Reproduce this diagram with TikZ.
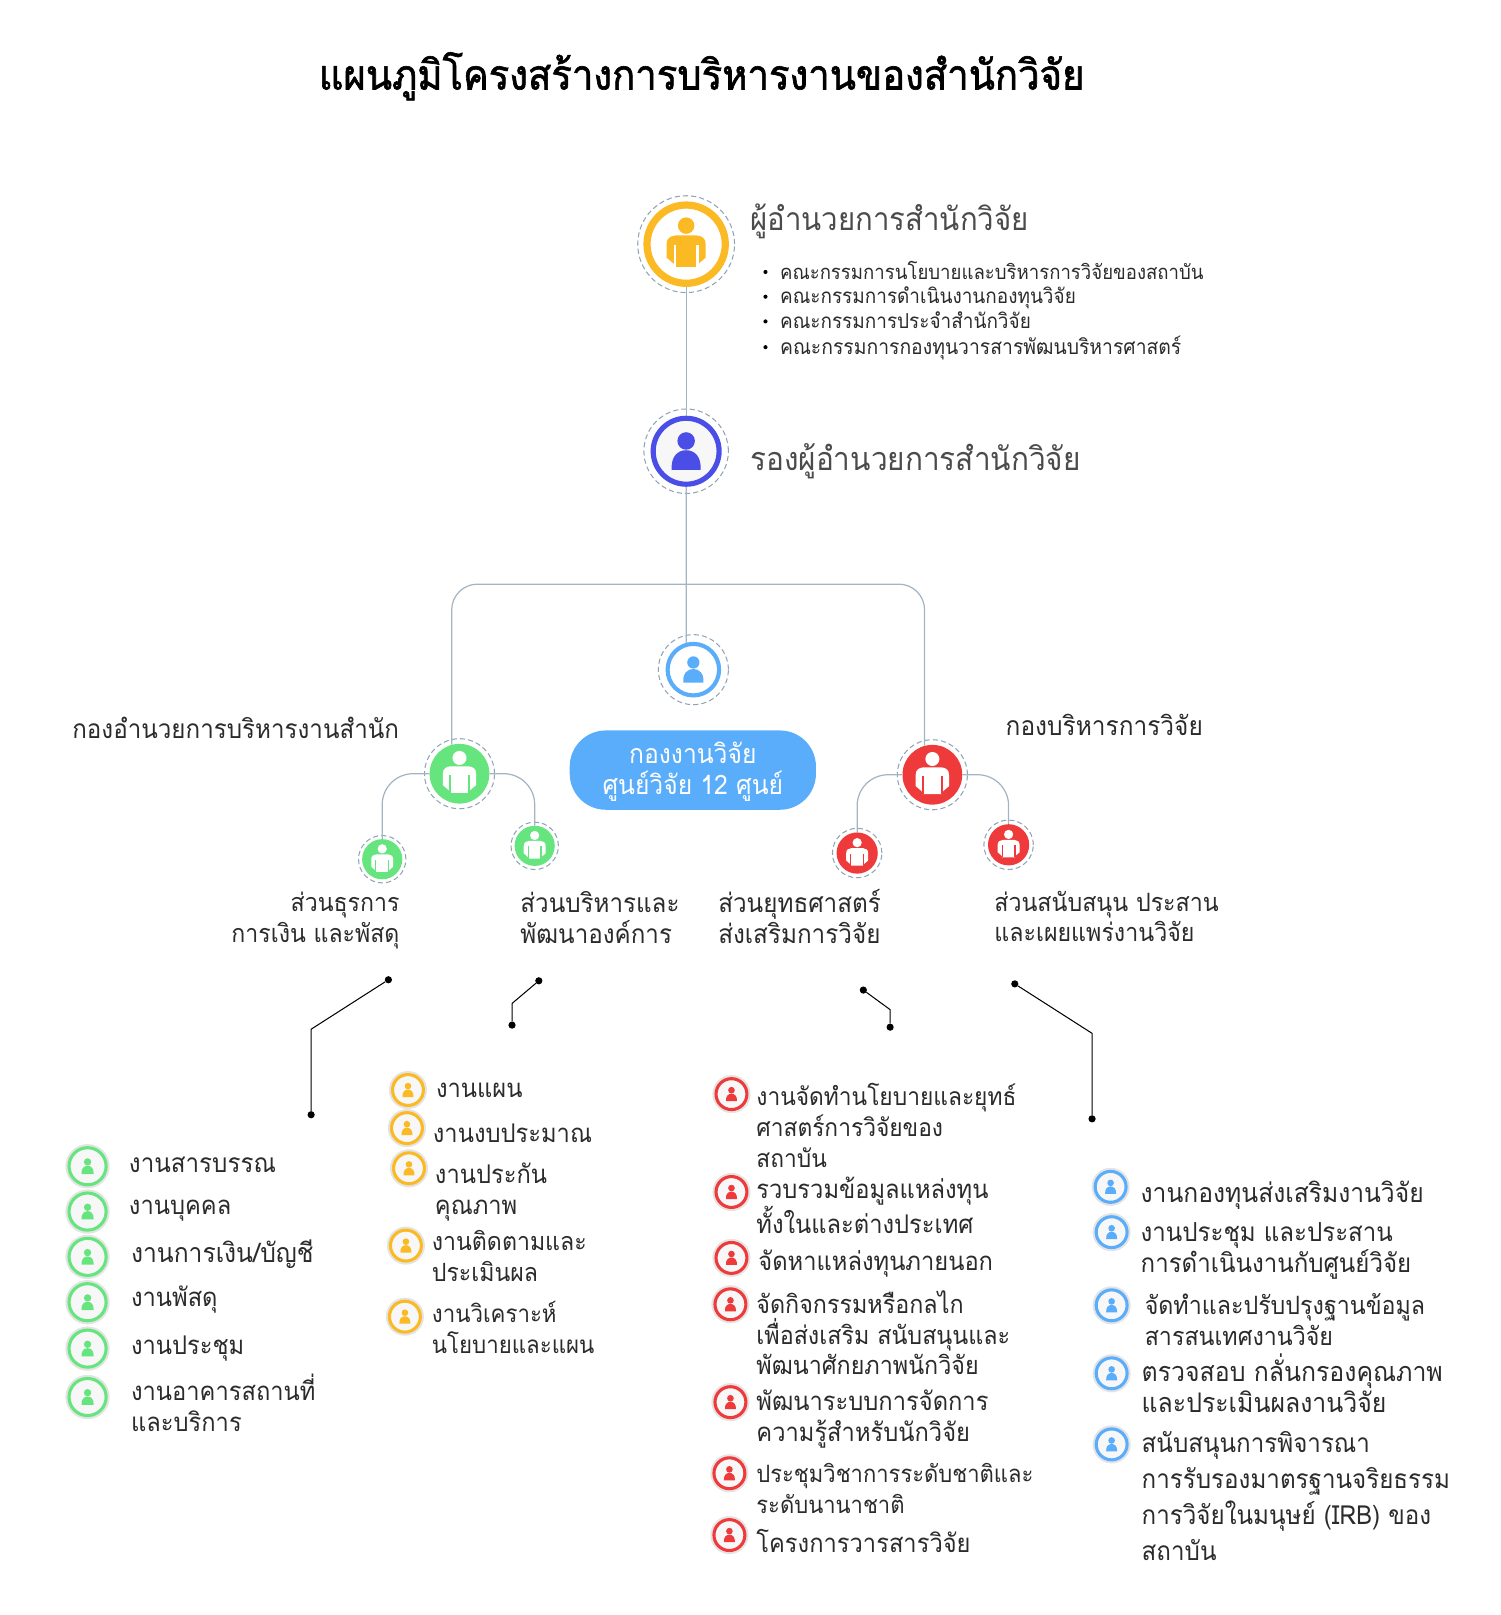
\documentclass[tikz,border=0pt]{standalone}
\usepackage{fontspec}
\setmainfont[Script=Thai,FakeStretch=0.92]{Loma}
\newfontfamily\titlefont[Script=Thai,FakeStretch=0.92,FakeBold=1.5]{Loma}
\definecolor{gold}{HTML}{FBB924}
\definecolor{indigo}{HTML}{4A4DE6}
\definecolor{sky}{HTML}{5AADFA}
\definecolor{leaf}{HTML}{66E57F}
\definecolor{crimson}{HTML}{EE3A3A}
\definecolor{rimgray}{HTML}{8FA3B5}
\definecolor{wire}{HTML}{A3B4C3}
\definecolor{halo}{HTML}{E4E4E4}
\definecolor{ink}{HTML}{2B2B2B}
\tikzset{
  rim/.style={circle, inner sep=0pt, draw=rimgray, dash pattern=on 5pt off 3pt, line width=1pt},
  disc/.style={circle, inner sep=0pt, fill=#1},
  ringed/.style={circle, inner sep=0pt, fill=white, draw=#1},
  itm/.style={circle, inner sep=0pt, minimum size=30pt, fill=white!97!black, draw=#1, line width=3pt,
    preaction={draw=halo, line width=7pt}},
  dot/.style={circle, inner sep=0pt, minimum size=7pt, fill=black},
  bul/.style={circle, inner sep=0pt, minimum size=4pt, fill=black},
  branch/.style={draw=wire, line width=1.2pt},
  lead/.style={draw=black, line width=1pt},
  fsz/.style={font=\fontsize{#1}{30}\selectfont},
  txt/.style={anchor=west, align=left, inner sep=0pt, yshift=-3pt, text=ink, fsz=25,
    execute at begin node=\strut, execute at end node=\strut},
  pics/bust/.style={code={
    \path [pic actions] (0,-10) circle (8.5);
    \path [pic actions] (-14,18) .. controls (-15,5) and (-8,-1) .. (0,-1)
      .. controls (8,-1) and (15,5) .. (14,18) -- cycle;
  }},
  pics/figure/.style 2 args={code={
    \fill [#1] (0,-18) circle (8);
    \fill [#1] (-19,13) -- (-19,0) .. controls (-19,-6) and (-15,-8) .. (-10,-8.5) -- (10,-8.5)
      .. controls (15,-8) and (19,-6) .. (19,0) -- (19,13) -- (12,19) -- (11,22) -- (-11,22) -- (-12,19) -- cycle;
    \fill [#2] (-12,1) rectangle (-10,22);
    \fill [#2] (10,1) rectangle (12,22);
  }},
}
\begin{document}
\begin{tikzpicture}[x=1pt,y=-1pt]
  \useasboundingbox (0,0) rectangle (1456,1567.6);
  \node (title) [inner sep=0pt, text=black, font=\fontsize{40.4}{48}\titlefont] at(681,74) {แผนภูมิโครงสร้างการบริหารงานของสำนักวิจัย};
  %
  % top of the chart
  \node (dirrim) [rim, minimum size=94pt] at(666,237) {};
  \node (dir) [ringed=gold, line width=7pt, minimum size=76pt] at(666,237) {};
  \pic at (dir) {figure={gold}{white}};
  \node (dirt) [txt, text=ink!85, fsz=31] at(728,212) {ผู้อำนวยการสำนักวิจัย};
  \node (c1) [txt, fsz=19.6] at(757,262) {คณะกรรมการนโยบายและบริหารการวิจัยของสถาบัน};
  \node (c2) [txt, fsz=20] at(757,286) {คณะกรรมการดำเนินงานกองทุนวิจัย};
  \node (c3) [txt, fsz=20] at(757,310) {คณะกรรมการประจำสำนักวิจัย};
  \node (c4) [txt, fsz=20.4] at(757,335) {คณะกรรมการกองทุนวารสารพัฒนบริหารศาสตร์};
  \node (b1) [bul] at(743,264) {};
  \node (b2) [bul] at(743,288) {};
  \node (b3) [bul] at(743,312) {};
  \node (b4) [bul] at(743,337) {};
  %
  \node (deprim) [rim, minimum size=82pt] at(666,438) {};
  \node (dep) [ringed=indigo, fill=white!97!black, line width=5pt, minimum size=64pt] at(666,438) {};
  \pic [fill=indigo] at (dep) {bust};
  \node (dept) [txt, text=ink!85, fsz=31.4] at(728,445) {รองผู้อำนวยการสำนักวิจัย};
  %
  \node (ctrrim) [rim, minimum size=68pt] at(673,650) {};
  \node (ctr) [ringed=sky, line width=4pt, minimum size=50pt] at(673,650) {};
  \pic [fill=sky, scale=.7] at (ctr) {bust};
  \node (pill) [rectangle, rounded corners=35pt, fill=sky, minimum width=239pt, minimum height=77pt, inner sep=0pt] at(672.5,747.5) {};
  \node (pillt) [inner sep=0pt, text=white, align=center, fsz=26] at(672.5,749) {กองงานวิจัย\\ศูนย์วิจัย 12 ศูนย์};
  %
  % green branch
  \node (grnrim) [rim, minimum size=68pt] at(446,751) {};
  \node (grn) [disc=leaf, minimum size=58pt] at(446,751) {};
  \pic [scale=.85] at (grn) {figure={white}{leaf}};
  \node (grnt) [txt, fsz=25.5] at(70,708) {กองอำนวยการบริหารงานสำนัก};
  \node (gs1rim) [rim, minimum size=46pt] at(371,834) {};
  \node (gs1) [disc=leaf, minimum size=39pt] at(371,834) {};
  \pic [scale=.56] at (gs1) {figure={white}{leaf}};
  \node (gs2rim) [rim, minimum size=46pt] at(519,821) {};
  \node (gs2) [disc=leaf, minimum size=39pt] at(519,821) {};
  \pic [scale=.56] at (gs2) {figure={white}{leaf}};
  \node (gs1t) [txt, anchor=east, align=right, fsz=24.4] at(388,892) {ส่วนธุรการ\\การเงิน และพัสดุ};
  \node (gs2t) [txt, fsz=25.5] at(505,892) {ส่วนบริหารและ\\พัฒนาองค์การ};
  %
  % red branch
  \node (redrim) [rim, minimum size=68pt] at(905,752) {};
  \node (red) [disc=crimson, minimum size=58pt] at(905,752) {};
  \pic [scale=.85] at (red) {figure={white}{crimson}};
  \node (redt) [txt, fsz=25.8] at(976,705) {กองบริหารการวิจัย};
  \node (rs1rim) [rim, minimum size=48pt] at(832,828) {};
  \node (rs1) [disc=crimson, minimum size=40pt] at(832,828) {};
  \pic [scale=.56] at (rs1) {figure={white}{crimson}};
  \node (rs2rim) [rim, minimum size=48pt] at(979,820) {};
  \node (rs2) [disc=crimson, minimum size=40pt] at(979,820) {};
  \pic [scale=.56] at (rs2) {figure={white}{crimson}};
  \node (rs1t) [txt, fsz=25.6] at(697,891) {ส่วนยุทธศาสตร์\\ส่งเสริมการวิจัย};
  \node (rs2t) [txt, fsz=24.5] at(965,891) {ส่วนสนับสนุน ประสาน\\และเผยแพร่งานวิจัย};
  %
  % wires
  \coordinate (hub) at (666,567);
  \draw [branch] (dir) -- (dep);
  \draw [branch] (dep) -- (ctr.105);
  \draw [branch, rounded corners=25pt] (grn.105) |- (hub) -| (red.105);
  \draw [branch, rounded corners=30pt] (grn.east) -| (gs2.north);
  \draw [branch, rounded corners=30pt] (grn.west) -| (gs1.north);
  \draw [branch, rounded corners=30pt] (red.east) -| (rs2.north);
  \draw [branch, rounded corners=30pt] (red.west) -| (rs1.north);
  %
  % leaders
  \node (l1a) [dot] at(377,951) {};
  \coordinate (l1k) at (302,999);
  \node (l1b) [dot] at(302,1082) {};
  \draw [lead] (l1a) -- (l1k) -- (l1b);
  \node (l2a) [dot] at(523,952) {};
  \coordinate (l2k) at (497,974);
  \node (l2b) [dot] at(497,995) {};
  \draw [lead] (l2a) -- (l2k) -- (l2b);
  \node (l3a) [dot] at(838,961) {};
  \coordinate (l3k) at (864,980);
  \node (l3b) [dot] at(864,997) {};
  \draw [lead] (l3a) -- (l3k) -- (l3b);
  \node (l4a) [dot] at(985,955) {};
  \coordinate (l4k) at (1060,1003);
  \node (l4b) [dot] at(1060,1086) {};
  \draw [lead] (l4a) -- (l4k) -- (l4b);
  %
  % green list
  \node (g1) [itm=leaf, minimum size=36pt] at(85,1132) {};
  \pic [fill=leaf, scale=.42] at (g1) {bust};
  \node (g1t) [txt, fsz=25.5] at(125,1129) {งานสารบรรณ};
  \node (g2) [itm=leaf, minimum size=36pt] at(85,1176) {};
  \pic [fill=leaf, scale=.42] at (g2) {bust};
  \node (g2t) [txt] at(125,1170) {งานบุคคล};
  \node (g3) [itm=leaf, minimum size=36pt] at(85,1220) {};
  \pic [fill=leaf, scale=.42] at (g3) {bust};
  \node (g3t) [txt, fsz=26] at(127,1216) {งานการเงิน/บัญชี};
  \node (g4) [itm=leaf, minimum size=36pt] at(85,1264) {};
  \pic [fill=leaf, scale=.42] at (g4) {bust};
  \node (g4t) [txt] at(127,1259) {งานพัสดุ};
  \node (g5) [itm=leaf, minimum size=36pt] at(85,1309) {};
  \pic [fill=leaf, scale=.42] at (g5) {bust};
  \node (g5t) [txt] at(127,1306) {งานประชุม};
  \node (g6) [itm=leaf, minimum size=36pt] at(85,1356) {};
  \pic [fill=leaf, scale=.42] at (g6) {bust};
  \node (g6t) [txt] at(127,1363) {งานอาคารสถานที่\\และบริการ};
  %
  % yellow list
  \node (y1) [itm=gold] at(396,1058) {};
  \pic [fill=gold, scale=.38] at (y1) {bust};
  \node (y1t) [txt] at(423,1056) {งานแผน};
  \node (y2) [itm=gold] at(395,1095) {};
  \pic [fill=gold, scale=.38] at (y2) {bust};
  \node (y2t) [txt] at(420,1100) {งานงบประมาณ};
  \node (y3) [itm=gold] at(397,1134) {};
  \pic [fill=gold, scale=.38] at (y3) {bust};
  \node (y3t) [txt] at(422,1155) {งานประกัน\\คุณภาพ};
  \node (y4) [itm=gold] at(394,1209) {};
  \pic [fill=gold, scale=.38] at (y4) {bust};
  \node (y4t) [txt, fsz=24.4] at(419,1220.5) {งานติดตามและ\\ประเมินผล};
  \node (y5) [itm=gold] at(393,1278) {};
  \pic [fill=gold, scale=.38] at (y5) {bust};
  \node (y5t) [txt, fsz=23.5] at(419,1290) {งานวิเคราะห์\\นโยบายและแผน};
  %
  % red list
  \node (r1) [itm=crimson] at(710,1062) {};
  \pic [fill=crimson, scale=.38] at (r1) {bust};
  \node (r1t) [txt, fsz=24] at(734,1094) {งานจัดทำนโยบายและยุทธ์\\ศาสตร์การวิจัยของ\\สถาบัน};
  \node (r2) [itm=crimson] at(710,1157) {};
  \pic [fill=crimson, scale=.38] at (r2) {bust};
  \node (r2t) [txt] at(734,1171) {รวบรวมข้อมูลแหล่งทุน\\ทั้งในและต่างประเทศ};
  \node (r3) [itm=crimson] at(710,1221) {};
  \pic [fill=crimson, scale=.38] at (r3) {bust};
  \node (r3t) [txt] at(736,1224) {จัดหาแหล่งทุนภายนอก};
  \node (r4) [itm=crimson] at(709,1266) {};
  \pic [fill=crimson, scale=.38] at (r4) {bust};
  \node (r4t) [txt, fsz=24.6] at(734,1295) {จัดกิจกรรมหรือกลไก\\เพื่อส่งเสริม สนับสนุนและ\\พัฒนาศักยภาพนักวิจัย};
  \node (r5) [itm=crimson] at(709,1361) {};
  \pic [fill=crimson, scale=.38] at (r5) {bust};
  \node (r5t) [txt] at(734,1376) {พัฒนาระบบการจัดการ\\ความรู้สำหรับนักวิจัย};
  \node (r6) [itm=crimson] at(708,1430) {};
  \pic [fill=crimson, scale=.38] at (r6) {bust};
  \node (r6t) [txt, fsz=23.2] at(734,1446) {ประชุมวิชาการระดับชาติและ\\ระดับนานาชาติ};
  \node (r7) [itm=crimson] at(708,1490) {};
  \pic [fill=crimson, scale=.38] at (r7) {bust};
  \node (r7t) [txt] at(734,1497) {โครงการวารสารวิจัย};
  %
  % blue list
  \node (s1) [itm=sky] at(1078,1152) {};
  \pic [fill=sky, scale=.38] at (s1) {bust};
  \node (s1t) [txt, fsz=26] at(1107,1158) {งานกองทุนส่งเสริมงานวิจัย};
  \node (s2) [itm=sky] at(1079,1196) {};
  \pic [fill=sky, scale=.38] at (s2) {bust};
  \node (s2t) [txt, fsz=25.4] at(1107,1212) {งานประชุม และประสาน\\การดำเนินงานกับศูนย์วิจัย};
  \node (s3) [itm=sky] at(1079,1267) {};
  \pic [fill=sky, scale=.38] at (s3) {bust};
  \node (s3t) [txt, fsz=24.5] at(1111,1282) {จัดทำและปรับปรุงฐานข้อมูล\\สารสนเทศงานวิจัย};
  \node (s4) [itm=sky] at(1079,1333) {};
  \pic [fill=sky, scale=.38] at (s4) {bust};
  \node (s4t) [txt, fsz=26.2] at(1108,1344) {ตรวจสอบ กลั่นกรองคุณภาพ\\และประเมินผลงานวิจัย};
  \node (s5) [itm=sky] at(1079,1402) {};
  \pic [fill=sky, scale=.38] at (s5) {bust};
  \node (s5t) [txt, font=\fontsize{25.5}{35}\selectfont] at(1108,1454) {สนับสนุนการพิจารณา\\การรับรองมาตรฐานจริยธรรม\\การวิจัยในมนุษย์ (IRB) ของ\\สถาบัน};
\end{tikzpicture}
\end{document}
